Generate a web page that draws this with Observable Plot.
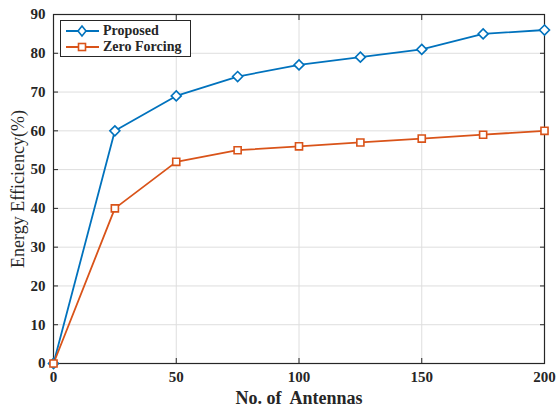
<!DOCTYPE html>
<html><head><meta charset="utf-8">
<script src="https://cdn.jsdelivr.net/npm/d3@7"></script>
<script src="https://cdn.jsdelivr.net/npm/@observablehq/plot@0.6"></script>
<style>
body{margin:0;background:#fff;}
#wrap{position:relative;width:556px;height:408px;font-family:"Liberation Serif","Times New Roman",serif;}
#legend{position:absolute;left:60px;top:20px;width:129px;height:35px;border:1px solid #262626;background:#fff;font-weight:bold;font-size:14px;color:#262626;}
#legend .row{position:absolute;left:4px;height:16px;display:flex;align-items:center;}
#legend svg{margin-right:2px;}
</style></head>
<body><div id="wrap"><div id="chart"></div><div id="legend"></div></div>
<script>
const antennas = [0, 25, 50, 75, 100, 125, 150, 175, 200];
const proposed = [0, 60, 69, 74, 77, 79, 81, 85, 86];
const zeroForcing = [0, 40, 52, 55, 56, 57, 58, 59, 60];
const seriesNames = ["Proposed", "Zero Forcing"];
const colors = ["#0072BD", "#D95319"];
const symbols = ["diamond2", "square2"];
const xTicks = [0, 50, 100, 150, 200];
const yTicks = [0, 10, 20, 30, 40, 50, 60, 70, 80, 90];
const xLabel = "No. of  Antennas";
const yLabel = "Energy Efficiency(%)";

const data = [];
antennas.forEach((a, i) => {
  data.push({x: a, y: proposed[i], s: seriesNames[0]});
  data.push({x: a, y: zeroForcing[i], s: seriesNames[1]});
});

const ink = "#262626";
const chart = Plot.plot({
  width: 556, height: 408,
  marginLeft: 53, marginRight: 12, marginTop: 14, marginBottom: 45,
  style: {fontFamily: "'Liberation Serif', 'Times New Roman', serif", fontSize: "15px", fontWeight: "bold", color: ink, background: "#fff"},
  x: {domain: [0, 200]},
  y: {domain: [0, 90]},
  color: {domain: seriesNames, range: colors},
  symbol: {domain: seriesNames, range: symbols},
  marks: [
    Plot.gridX(xTicks, {stroke: "#dedede", strokeOpacity: 1}),
    Plot.gridY(yTicks, {stroke: "#dedede", strokeOpacity: 1}),
    Plot.axisX({ticks: xTicks, anchor: "bottom", tickSize: 0, tickPadding: 8, label: null}),
    Plot.axisY({ticks: yTicks, anchor: "left", tickSize: 0, tickPadding: 8, label: null}),
    Plot.axisX({ticks: xTicks, anchor: "bottom", tickSize: 5, dy: -5, tickFormat: () => "", label: null, stroke: ink}),
    Plot.axisX({ticks: xTicks, anchor: "top", tickSize: 5, dy: 5, tickFormat: () => "", label: null, stroke: ink}),
    Plot.axisY({ticks: yTicks, anchor: "left", tickSize: 5, dx: 5, tickFormat: () => "", label: null, stroke: ink}),
    Plot.axisY({ticks: yTicks, anchor: "right", tickSize: 5, dx: -5, tickFormat: () => "", label: null, stroke: ink}),
    Plot.frame({stroke: ink, strokeWidth: 1.2}),
    Plot.line(data, {x: "x", y: "y", z: "s", stroke: "s", strokeWidth: 1.8}),
    Plot.dot(data, {x: "x", y: "y", stroke: "s", symbol: "s", r: 4.5, strokeWidth: 1.6, fill: "white"}),
    Plot.text([xLabel], {frameAnchor: "bottom", textAnchor: "middle", dy: 40, fontSize: 18, fontWeight: "bold", fill: ink}),
    Plot.text([yLabel], {frameAnchor: "left", textAnchor: "middle", dx: -35, rotate: -90, fontSize: 18, fontWeight: "normal", fill: ink})
  ]
});
document.getElementById("chart").appendChild(chart);

// legend
const leg = document.getElementById("legend");
seriesNames.forEach((name, i) => {
  const row = document.createElement("div");
  row.className = "row";
  row.style.top = (2 + i * 16) + "px";
  const sym = i === 0
    ? `<path d="M17 3 L21 8 L17 13 L13 8 Z" fill="white" stroke="${colors[i]}" stroke-width="1.6"/>`
    : `<rect x="13.5" y="4.5" width="7" height="7" fill="white" stroke="${colors[i]}" stroke-width="1.6"/>`;
  row.innerHTML = `<svg width="36" height="16"><line x1="1" y1="8" x2="34" y2="8" stroke="${colors[i]}" stroke-width="1.8"/>${sym}</svg><span>${name}</span>`;
  leg.appendChild(row);
});
</script></body></html>
